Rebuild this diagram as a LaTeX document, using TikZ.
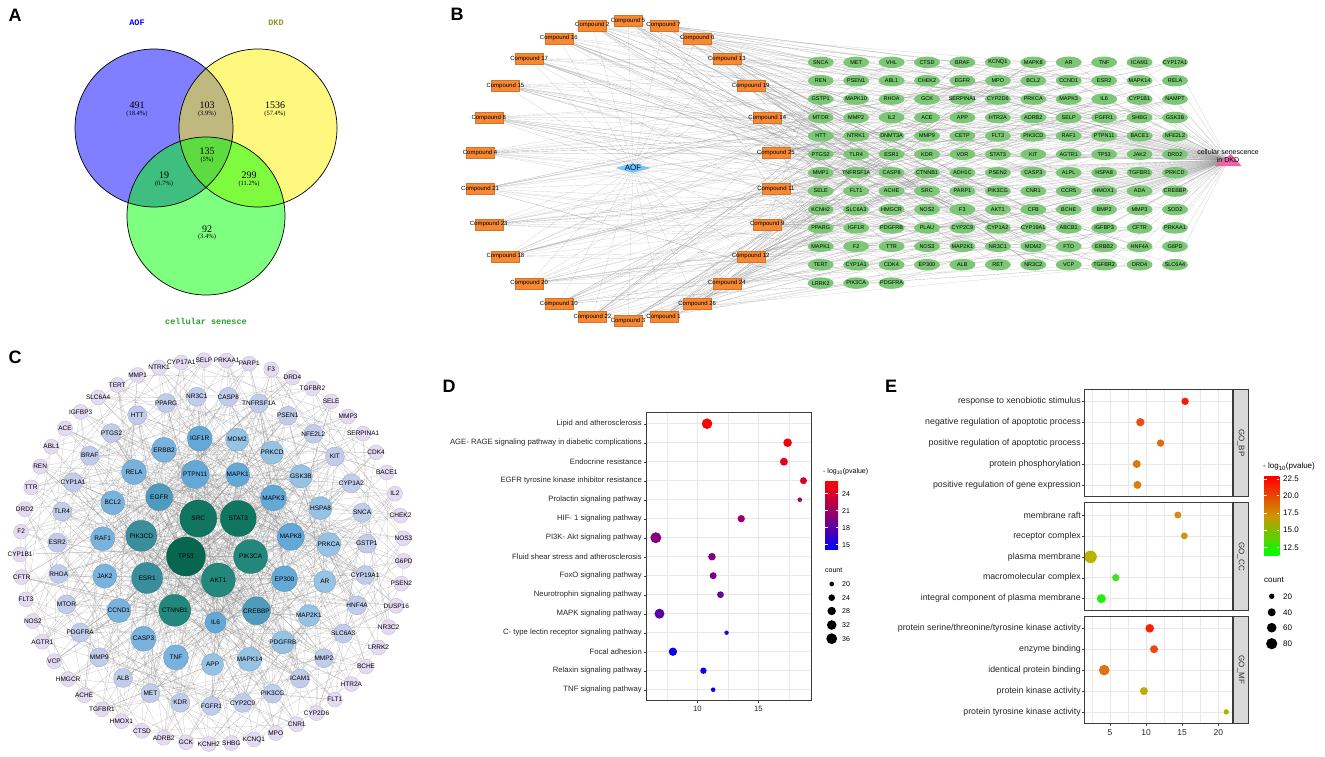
\documentclass[tikz,border=0pt]{standalone}
\usepackage{fontspec}
\setmainfont{Liberation Sans}
\newfontfamily\vennnum{Liberation Serif}
\newfontfamily\vennlbl{Liberation Mono}
\usetikzlibrary{shapes.geometric,calc}
\pgfdeclarelayer{bg}
\pgfsetlayers{bg,main}

\definecolor{cpdorange}{RGB}{247,136,52}
\definecolor{tgtgreen}{RGB}{124,199,118}
\definecolor{aofcyan}{RGB}{112,205,240}
\definecolor{dkdpink}{RGB}{240,100,165}
\definecolor{webgray}{RGB}{140,140,140}
\definecolor{gridgray}{RGB}{232,232,232}
\definecolor{boxgray}{RGB}{60,60,60}
\definecolor{stripgray}{RGB}{217,217,217}
\definecolor{vennolive}{RGB}{150,150,40}
\definecolor{venngreen}{RGB}{40,160,40}
\definecolor{ppiA}{RGB}{6,102,78}
\definecolor{ppiB}{RGB}{16,118,96}
\definecolor{ppiC}{RGB}{34,136,124}
\definecolor{ppiD}{RGB}{56,142,154}
\definecolor{ppiE}{RGB}{78,155,190}
\definecolor{ppiF}{RGB}{100,168,216}
\definecolor{ppiG}{RGB}{122,178,222}
\definecolor{ppiH}{RGB}{150,194,228}
\definecolor{ppiI}{RGB}{192,204,234}
\definecolor{ppiJ}{RGB}{228,219,242}
\definecolor{goE1}{RGB}{255,25,0}
\definecolor{goE2}{RGB}{240,75,20}
\definecolor{goE3}{RGB}{225,105,20}
\definecolor{goE4}{RGB}{220,120,20}
\definecolor{goE5}{RGB}{220,125,20}
\definecolor{goE6}{RGB}{210,140,20}
\definecolor{goE7}{RGB}{210,145,15}
\definecolor{goE8}{RGB}{185,180,0}
\definecolor{goE9}{RGB}{70,225,30}
\definecolor{goE10}{RGB}{30,240,10}
\definecolor{goE11}{RGB}{255,30,0}
\definecolor{goE12}{RGB}{240,70,15}
\definecolor{goE13}{RGB}{225,115,15}
\definecolor{goE14}{RGB}{195,170,0}
\definecolor{goE15}{RGB}{180,180,0}

\newcommand\dfont{\fontsize{7.7}{8}\selectfont}
\newcommand\efont{\fontsize{8.8}{9}\selectfont}

\begin{document}
\begin{tikzpicture}[x=1pt,y=-1pt]
\tikzset{
  letter/.style={font=\fontsize{18}{18}\selectfont\bfseries, inner sep=0pt},
  vnum/.style={font=\vennnum\fontsize{10}{10}\selectfont, inner sep=0pt},
  vpct/.style={font=\vennnum\fontsize{6.5}{6.5}\selectfont, inner sep=0pt},
  vset/.style={font=\vennlbl\bfseries\fontsize{8.5}{8.5}\selectfont, inner sep=0pt},
  cpd/.style={rectangle, fill=cpdorange, draw=cpdorange!85!black, line width=0.2pt,
    minimum width=28, minimum height=11, inner sep=0pt,
    label={[font=\fontsize{6}{6}\selectfont, inner sep=0pt]center:Compound #1}},
  tgt/.style={ellipse, fill=tgtgreen, minimum width=26, minimum height=11.5, inner sep=0pt,
    label={[font=\fontsize{5.5}{5.5}\selectfont, inner sep=0pt]center:#1}},
  aof/.style={diamond, aspect=4, fill=aofcyan, draw=aofcyan!80!blue, line width=0.3pt,
    minimum width=33, minimum height=9, inner sep=0pt,
    label={[font=\fontsize{8}{8}\selectfont, text=blue!30!black, inner sep=0pt]center:AOF}},
  dkd/.style={rectangle, inner sep=0pt, minimum width=27, minimum height=12,
    path picture={\fill[dkdpink] (path picture bounding box.south west) -- (path picture bounding box.south east)
      -- ($(path picture bounding box.north)+(3,0)$) -- cycle;}},
  ppi/.style n args={3}{circle, fill=#1, draw=#1!80!black, line width=0.25pt,
    minimum size=#2, inner sep=0pt,
    label={[font=\fontsize{6.5}{6.5}\selectfont, inner sep=0pt]center:#3}},
  web/.style={webgray, line width=0.15pt, opacity=0.55},
  ppiweb/.style={webgray, line width=0.2pt, opacity=0.6},
  gridmaj/.style={gridgray, line width=0.7pt},
  gridmin/.style={gridgray, line width=0.35pt},
  plotbox/.style={boxgray, line width=0.6pt},
  ylab/.style={anchor=east, inner sep=0pt, text=black!85},
  axtick/.style={boxgray, line width=0.4pt}
}
\useasboundingbox (0,0) rectangle (1325,757);

% A
\node[letter] (labA) at (15,15) {A};
\fill[blue, fill opacity=0.5] (154,128) circle[radius=79];
\fill[yellow, fill opacity=0.5] (258,128) circle[radius=79];
\fill[green, fill opacity=0.5] (206,216) circle[radius=79];
\draw[line width=0.7pt] (154,128) circle[radius=79] (258,128) circle[radius=79] (206,216) circle[radius=79];
\node[vset, text=blue] (setA) at (137,23) {AOF};
\node[vset, text=vennolive] (setD) at (276,23) {DKD};
\node[vset, text=venngreen] (setC) at (206,321) {cellular senesce};
\foreach \x/\y/\v/\p [count=\n] in {137/105.5/491/18.4, 207/105.5/103/3.9, 275/105.5/1536/57.4,
  207/151.5/135/5, 164/175.5/19/0.7, 249/175.5/299/11.2, 207/229/92/3.4} {
  \node[vnum] (vn\n) at (\x,\y) {\v};
  \node[vpct] (vp\n) at (\x,\y+8.3) {(\p\%)};
}

% B
\node[letter] (labB) at (457,14.5) {B};
\foreach \c [count=\k from 0] in {5,2,16,17,15,8,4,21,23,18,20,10,22,3,1,26,24,12,9,11,25,14,19,13,6,7}
  \node[cpd=\c] (cpd\c) at ({628+149*cos(90+13.84615*\k)},{171-150*sin(90+13.84615*\k)}) {};
\node[aof] (aof) at (633,168) {};
\foreach \g [count=\n from 0] in {SNCA,MET,VHL,CTSD,BRAF,KCNQ1,MAPK8,AR,TNF,ICAM1,CYP17A1,
  REN,PSEN1,ABL1,CHEK2,EGFR,MPO,BCL2,CCND1,ESR2,MAPK14,RELA,
  GSTP1,MAPK10,RHOA,GCK,SERPINA1,CYP2D6,PRKCA,MAPK3,IL6,CYP1B1,NAMPT,
  MTOR,MMP2,IL2,ACE,APP,HTR2A,ADRB2,SELP,FGFR1,SHBG,GSK3B,
  HTT,NTRK1,DNMT3A,MMP9,CETP,FLT3,PIK3CD,RAF1,PTPN11,BACE1,NFE2L2,
  PTGS2,TLR4,ESR1,KDR,VDR,STAT3,KIT,AGTR1,TP53,JAK2,DRD2,
  MMP1,TNFRSF1A,CASP8,CTNNB1,ADH1C,PSEN2,CASP3,ALPL,HSPA8,TGFBR1,PRKCD,
  SELE,FLT1,ACHE,SRC,PARP1,PIK3CG,CNR1,CCR5,HMOX1,ADA,CREBBP,
  KCNH2,SLC6A3,HMGCR,NOS2,F3,AKT1,CFB,BCHE,BMP2,MMP3,SOD2,
  PPARG,IGF1R,PDGFRB,PLAU,CYP2C9,CYP1A2,CYP19A1,ABCB1,IGFBP3,CFTR,PRKAA1,
  MAPK1,F2,TTR,NOS3,MAP2K1,NR3C1,MDM2,FTO,ERBB2,HNF4A,G6PD,
  TERT,CYP1A1,CDK4,EP300,ALB,RET,NR3C2,VCP,TGFBR2,DRD4,SLC6A4,
  LRRK2,PIK3CA,PDGFRA} {
  \pgfmathtruncatemacro\row{int((\n+0.5)/11)}
  \pgfmathtruncatemacro\col{\n-11*\row}
  \node[tgt=\g] (tg\n) at ({820.7+35.43*\col},{62.3+18.4*\row}) {};
}
\node[dkd, label={[font=\fontsize{7}{7.5}\selectfont, align=center, inner sep=0pt, yshift=4]center:{cellular senescence\\in DKD}}] (dkd) at (1228,160) {};
\begin{pgfonlayer}{bg}
\foreach \c in {1,...,26} {
  \draw[web] (aof) -- (cpd\c);
  \foreach \m in {1,...,14} {
    \pgfmathtruncatemacro\t{mod(\c*37+\m*29+\m*\m*11,135)}
    \draw[web] (cpd\c) -- (tg\t);
  }
}
\foreach \n in {0,...,134} \draw[web] (tg\n) -- (dkd.center);
\end{pgfonlayer}

% C
\node[letter] (labC) at (15,357.5) {C};
\foreach \g/\c/\d [count=\k from 0] in {AKT1/ppiC/34, PIK3CA/ppiC/34, STAT3/ppiB/36, SRC/ppiB/37, TP53/ppiA/39}
  \node[ppi={\c}{\d}{\g}] (pc\the\numexpr\k+1\relax) at ({218.3+34*cos(-90+72*\k)},{546-34*sin(-90+72*\k)}) {};
\foreach \g/\c/\d [count=\k from 0] in {PTPN11/ppiF/28, MAPK1/ppiF/24, MAPK3/ppiF/26, MAPK8/ppiF/27,
  EP300/ppiF/26, CREBBP/ppiE/28, IL6/ppiF/21, CTNNB1/ppiC/32, ESR1/ppiD/31, PIK3CD/ppiD/31, EGFR/ppiE/27}
  \node[ppi={\c}{\d}{\g}] (pc\the\numexpr\k+6\relax) at ({216+75.5*cos(106-32.72727*\k)},{547-75.5*sin(106-32.72727*\k)}) {};
\foreach \g/\c/\d [count=\k from 0] in {IGF1R/ppiF/25, MDM2/ppiH/23, PRKCD/ppiH/23, GSK3B/ppiH/23,
  HSPA8/ppiH/23, PRKCA/ppiH/24, AR/ppiH/22, MAP2K1/ppiH/22, PDGFRB/ppiH/23, MAPK14/ppiH/24,
  APP/ppiH/22, TNF/ppiG/25, CASP3/ppiG/25, CCND1/ppiG/24, JAK2/ppiG/24, RAF1/ppiG/24,
  BCL2/ppiG/24, RELA/ppiG/25, ERBB2/ppiG/25}
  \node[ppi={\c}{\d}{\g}] (pc\the\numexpr\k+17\relax) at ({215.5+113.5*cos(98-18.94737*\k)},{551-113.5*sin(98-18.94737*\k)}) {};
\foreach \g [count=\k from 0] in {NR3C1,CASP8,TNFRSF1A,PSEN1,NFE2L2,KIT,CYP1A2,SNCA,GSTP1,CYP19A1,
  HNF4A,SLC6A3,MMP2,ICAM1,PIK3CG,CYP2C9,FGFR1,KDR,MET,ALB,MMP9,PDGFRA,MTOR,RHOA,ESR2,TLR4,
  CYP1A1,BRAF,PTGS2,HTT,PPARG}
  \node[ppi={ppiI}{19}{\g}] (pc\the\numexpr\k+36\relax) at ({212+155*cos(95.6-11.6129*\k)},{551-155*sin(95.6-11.6129*\k)}) {};
\foreach \g [count=\k from 0] in {CYP17A1,SELP,PRKAA1,PARP1,F3,DRD4,TGFBR2,SELE,MMP3,SERPINA1,CDK4,
  BACE1,IL2,CHEK2,NOS3,G6PD,PSEN2,DUSP16,NR3C2,LRRK2,BCHE,HTR2A,FLT1,CYP2D6,CNR1,MPO,KCNQ1,
  SHBG,KCNH2,GCK,ADRB2,CTSD,HMOX1,TGFBR1,ACHE,HMGCR,VCP,AGTR1,NOS2,FLT3,CFTR,CYP1B1,F2,DRD2,
  TTR,REN,ABL1,ACE,IGFBP3,SLC6A4,TERT,MMP1,NTRK1}
  \node[ppi={ppiJ}{15}{\g}] (pc\the\numexpr\k+67\relax) at ({212+192*cos(99.2-6.79245*\k)},{552-192*sin(99.2-6.79245*\k)}) {};
\begin{pgfonlayer}{bg}
\foreach \i in {1,...,119} \foreach \k in {1,...,4} {
  \pgfmathtruncatemacro\j{mod(\i*31+\k*47+\k*\k*13,119)+1}
  \ifnum\j=\i\relax\else\draw[ppiweb] (pc\i) -- (pc\j);\fi
}
\foreach \i in {1,...,16} \foreach \j in {\i,...,16} {
  \ifnum\j>\i\relax\draw[ppiweb] (pc\i) -- (pc\j);\fi
}
\foreach \i in {17,...,66} \foreach \k in {1,...,4} {
  \pgfmathtruncatemacro\j{mod(\i*7+\k*5,16)+1}
  \draw[ppiweb] (pc\i) -- (pc\j);
}
\end{pgfonlayer}

% D
\node[letter] (labD) at (449,386) {D};
\foreach \n in {0,...,14} \draw[gridmaj] (646.7,423.7+19*\n) -- (811.7,423.7+19*\n);
\foreach \v in {7.5,12.5,17.5} \draw[gridmin] ({697.3+12.2*(\v-10)},412.7) -- ({697.3+12.2*(\v-10)},700.7);
\foreach \v in {10,15} {
  \draw[gridmaj] ({697.3+12.2*(\v-10)},412.7) -- ({697.3+12.2*(\v-10)},700.7);
  \draw[axtick] ({697.3+12.2*(\v-10)},700.7) -- ({697.3+12.2*(\v-10)},703.2);
  \node[font=\dfont, text=black!85, inner sep=0pt] (dx\v) at ({697.3+12.2*(\v-10)},708.5) {\v};
}
\foreach \lbl/\v/\r/\t [count=\n from 0] in {Lipid and atherosclerosis/10.8/5.3/100,
  AGE- RAGE signaling pathway in diabetic complications/17.4/4.3/95,
  Endocrine resistance/17.1/4.0/90,
  EGFR tyrosine kinase inhibitor resistance/18.7/3.5/85,
  Prolactin signaling pathway/18.4/2.3/65,
  HIF- 1 signaling pathway/13.6/3.7/60,
  PI3K- Akt signaling pathway/6.6/5.5/52,
  Fluid shear stress and atherosclerosis/11.2/3.8/50,
  FoxO signaling pathway/11.3/3.5/45,
  Neurotrophin signaling pathway/11.9/3.4/42,
  MAPK signaling pathway/6.9/5.0/35,
  C- type lectin receptor signaling pathway/12.4/2.2/15,
  Focal adhesion/8.0/4.2/8,
  Relaxin signaling pathway/10.5/3.2/5,
  TNF signaling pathway/11.3/2.3/0} {
  \node[ylab, font=\dfont] (dl\n) at (642,423.7+19*\n) {\lbl};
  \draw[axtick] (644.2,423.7+19*\n) -- (646.7,423.7+19*\n);
  \fill[red!\t!blue] ({697.3+12.2*(\v-10)},423.7+19*\n) circle[radius=\r];
}
\draw[plotbox] (646.7,412.7) rectangle (811.7,700.7);
\node[font=\fontsize{7}{7}\selectfont, anchor=west, inner sep=0pt] (dlegp) at (823,472) {- log\textsubscript{10}(pvalue)};
\shade[top color=red, bottom color=blue, middle color=red!55!blue] (825,481.7) rectangle (838,549);
\foreach \y/\v in {493.7/24, 510.7/21, 527.7/18, 544.7/15} {
  \draw[white, line width=0.5pt] (825,\y) -- (827.5,\y) (835.5,\y) -- (838,\y);
  \node[font=\fontsize{7}{7}\selectfont, anchor=west, inner sep=0pt] (dc\v) at (842,\y) {\v};
}
\node[font=\fontsize{7}{7}\selectfont, anchor=west, inner sep=0pt] (dlegc) at (825,570) {count};
\foreach \y/\r/\v in {584/2.3/20, 597.7/3.3/24, 611/4.2/28, 625/4.8/32, 638.7/5.4/36} {
  \fill (831.7,\y) circle[radius=\r];
  \node[font=\fontsize{7}{7}\selectfont, anchor=west, inner sep=0pt] (ds\v) at (842,\y) {\v};
}

% E
\node[letter] (labE) at (891,386) {E};
\foreach \top/\fac in {389/GO\_BP, 502.7/GO\_CC, 616/GO\_MF} {
  \foreach \n in {0,...,4} \draw[gridmaj] (1084.7,\top+12.3+20.9*\n) -- (1232.3,\top+12.3+20.9*\n);
  \foreach \v in {2.5,7.5,12.5,17.5} \draw[gridmin] ({1110+7.22*(\v-5)},\top) -- ({1110+7.22*(\v-5)},\top+107.7);
  \foreach \v in {5,10,15,20} \draw[gridmaj] ({1110+7.22*(\v-5)},\top) -- ({1110+7.22*(\v-5)},\top+107.7);
  \draw[plotbox, fill=stripgray] (1233.3,\top) rectangle (1248.3,\top+107.7);
  \node[font=\fontsize{8}{8}\selectfont, rotate=-90, inner sep=0pt, text=black!80] (strip\top) at (1240.8,\top+53.85) {\fac};
}
\foreach \lbl/\v/\r/\y [count=\n] in {response to xenobiotic stimulus/15.4/3.7/401.3,
  negative regulation of apoptotic process/9.2/4.2/422.2,
  positive regulation of apoptotic process/12.0/3.7/443.1,
  protein phosphorylation/8.7/4.0/464.0,
  positive regulation of gene expression/8.8/4.0/484.9,
  membrane raft/14.4/3.5/515.0,
  receptor complex/15.3/3.4/535.9,
  plasma membrane/2.3/6.3/556.8,
  macromolecular complex/5.8/3.7/577.7,
  integral component of plasma membrane/3.8/4.5/598.6,
  {protein serine/threonine/tyrosine kinase activity}/10.5/4.3/628.3,
  enzyme binding/11.1/4.0/649.2,
  identical protein binding/4.2/5.3/670.1,
  protein kinase activity/9.7/4.0/691.0,
  protein tyrosine kinase activity/21.1/2.7/711.9} {
  \node[ylab, font=\efont] (el\n) at (1081,\y) {\lbl};
  \draw[axtick] (1082.2,\y) -- (1084.7,\y);
  \fill[goE\n] ({1110+7.22*(\v-5)},\y) circle[radius=\r];
}
\foreach \top in {389, 502.7, 616} \draw[plotbox] (1084.7,\top) rectangle (1232.3,\top+107.7);
\foreach \v in {5,10,15,20} {
  \draw[axtick] ({1110+7.22*(\v-5)},723.3) -- ({1110+7.22*(\v-5)},725.8);
  \node[font=\fontsize{8.5}{8.5}\selectfont, text=black!85, inner sep=0pt] (ex\v) at ({1110+7.22*(\v-5)},733) {\v};
}
\node[font=\fontsize{8}{8}\selectfont, anchor=west, inner sep=0pt] (elegp) at (1263,466.7) {- log\textsubscript{10}(pvalue)};
\shade[top color=red, bottom color=green, middle color={rgb,255:red,205;green,150;blue,0}] (1264,476.7) rectangle (1279.3,555);
\foreach \y/\v in {479/22.5, 495.7/20.0, 513/17.5, 530/15.0, 547.3/12.5} {
  \draw[white, line width=0.5pt] (1264,\y) -- (1266.5,\y) (1276.8,\y) -- (1279.3,\y);
  \node[font=\fontsize{8}{8}\selectfont, anchor=west, inner sep=0pt] (ec\y) at (1283,\y) {\v};
}
\node[font=\fontsize{8}{8}\selectfont, anchor=west, inner sep=0pt] (elegc) at (1264,580) {count};
\foreach \y/\r/\v in {596.3/2.7/20, 612.3/4/40, 627.7/4.8/60, 643.7/5.6/80} {
  \fill (1271.7,\y) circle[radius=\r];
  \node[font=\fontsize{8}{8}\selectfont, anchor=west, inner sep=0pt] (es\v) at (1283,\y) {\v};
}
\end{tikzpicture}
\end{document}
